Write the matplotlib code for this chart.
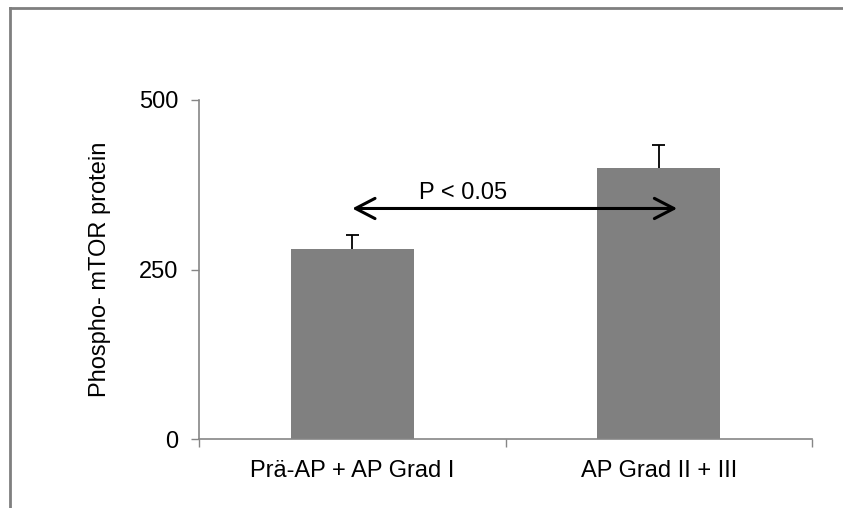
import matplotlib
matplotlib.use('Agg')
import matplotlib.pyplot as plt
from matplotlib.lines import Line2D

# data
categories = ['Prä-AP + AP Grad I', 'AP Grad II + III']
values = [280, 399]
errors_up = [21, 34]
yticks = [0, 250, 500]
sig_label = 'P < 0.05'

_BAR = '#808080'
_AXIS = '#868686'

plt.rcParams['font.family'] = ['Liberation Sans', 'DejaVu Sans']
plt.rcParams['font.size'] = 17

fig = plt.figure(figsize=(8.43, 5.08), dpi=100)
ax = fig.add_axes([199 / 843, 1 - 439 / 508, 613 / 843, 339 / 508])

x = list(range(len(categories)))
ax.bar(x, values, width=0.4, color=_BAR, zorder=2)

# upper-only error bars (stem + cap)
tops = [v + e for v, e in zip(values, errors_up)]
cap = 0.021
ax.vlines(x, values, tops, color='black', lw=1.3, zorder=3)
ax.hlines(tops, [i - cap for i in x], [i + cap for i in x], color='black', lw=1.3, zorder=3)

ax.set_xlim(-0.5, 1.5)
ax.set_ylim(0, 500)
ax.set_yticks(yticks)
ax.set_xticks(x)
ax.set_xticklabels(categories)
ax.set_xticks([-0.5, 0.5, 1.5], minor=True)
ax.tick_params(axis='x', which='major', length=0, pad=15)
ax.tick_params(axis='x', which='minor', length=6, width=1, color=_AXIS, direction='out')
ax.tick_params(axis='y', length=6, width=1, color=_AXIS, direction='out', pad=9)
ax.set_ylabel('Phospho- mTOR protein', labelpad=20)

for side in ('top', 'right'):
    ax.spines[side].set_visible(False)
for side in ('left', 'bottom'):
    ax.spines[side].set_color(_AXIS)
    ax.spines[side].set_linewidth(1.2)

# significance arrow
ax.annotate('', xy=(1.06, 340), xytext=(0.0, 340),
            arrowprops=dict(arrowstyle='<->,head_length=0.5,head_width=0.26',
                            color='black', lw=2.2, mutation_scale=28,
                            shrinkA=0, shrinkB=0), zorder=4)
ax.text(0.36, 347, sig_label, ha='center', va='bottom', zorder=4)

# outer frame (top and left edges visible)
fig.add_artist(Line2D([9.5 / 843, 9.5 / 843], [0, 1 - 8 / 508],
                      color='#7f7f7f', lw=2, transform=fig.transFigure))
fig.add_artist(Line2D([9.5 / 843, 1], [1 - 8 / 508, 1 - 8 / 508],
                      color='#7f7f7f', lw=2, transform=fig.transFigure))

fig.savefig('out.png', dpi=100)
